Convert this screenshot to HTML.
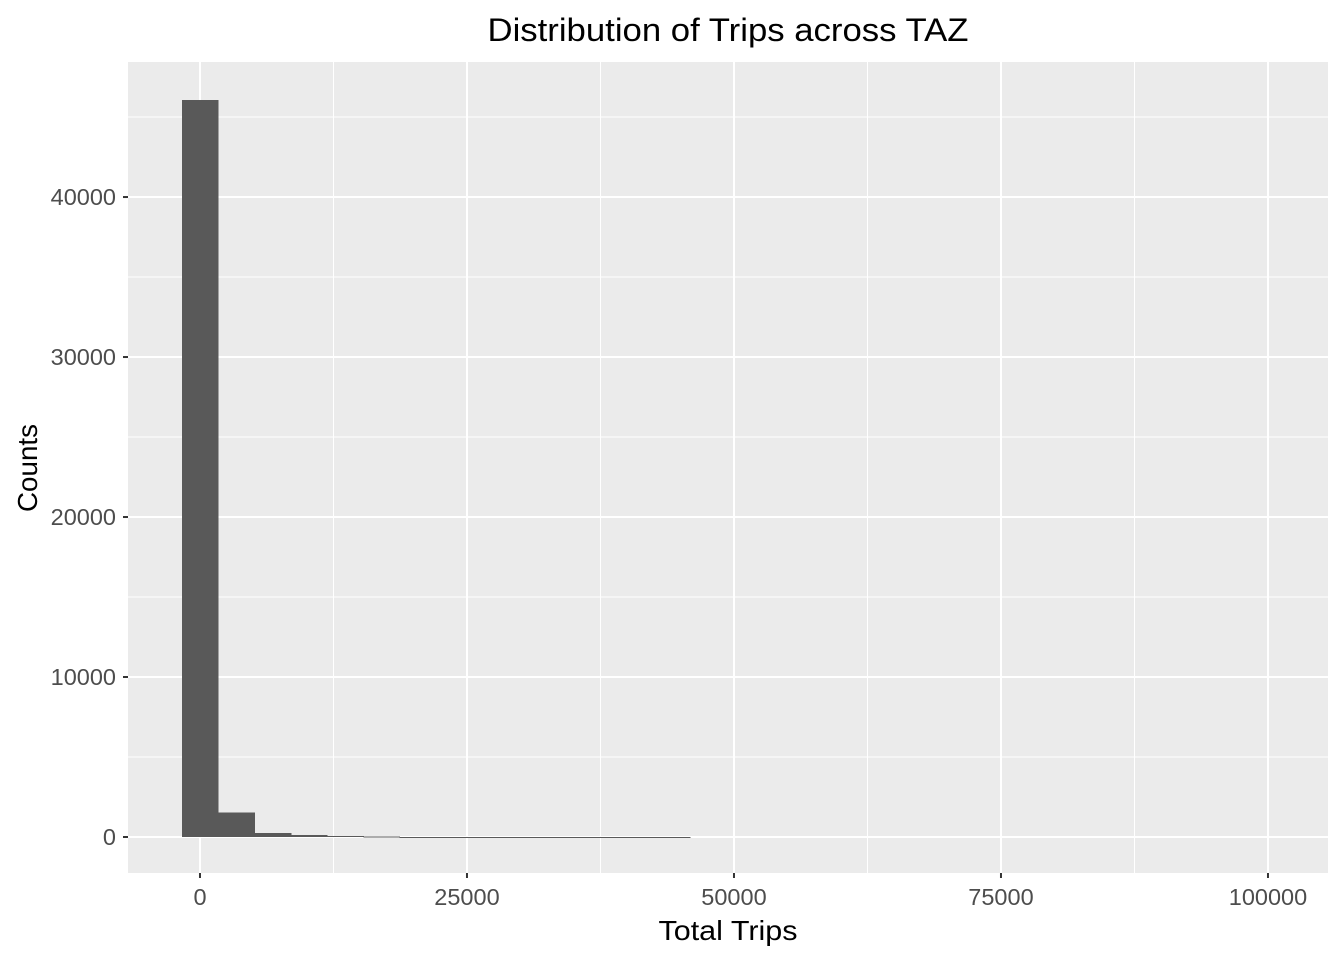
<!DOCTYPE html>
<html><head><meta charset="utf-8"><style>
body{margin:0;background:#fff;font-family:"Liberation Sans",Arial,sans-serif}
</style></head><body>
<svg id="chart" width="1344" height="960" xmlns="http://www.w3.org/2000/svg">
<rect width="1344" height="960" fill="#fff"/>
<text x="728" y="41" text-anchor="middle" font-size="32" textLength="481" lengthAdjust="spacingAndGlyphs" fill="#000">Distribution of Trips across TAZ</text>
<rect id="panel" x="128" y="62" width="1200" height="811" fill="#ebebeb"/>
<g id="grid"></g><g id="bars" shape-rendering="crispEdges"></g><g id="axes"></g>
<text x="728" y="940" text-anchor="middle" font-size="28" textLength="139" lengthAdjust="spacingAndGlyphs" fill="#000">Total Trips</text>
<text transform="translate(37,468) rotate(-90)" text-anchor="middle" font-size="28" textLength="88" lengthAdjust="spacingAndGlyphs" fill="#000">Counts</text>
</svg>
<script>
const binStarts=[-1700,1700,5100,8500,11900,15300,18700,22100,25500,28900,32300,35700,39100,42500];
const binWidth=3400;
const counts=[46050,1520,240,120,50,20,15,10,8,6,5,4,3,2];
const xTicks=[0,25000,50000,75000,100000];
const yTicks=[0,10000,20000,30000,40000];
const xMinor=[12500,37500,62500,87500];
const yMinor=[5000,15000,25000,35000,45000];
const NS="http://www.w3.org/2000/svg";
const X0=128,X1=1328,Y0=62,Y1=873;
const xmin=-6740,xmax=105620,ymin=-2250,ymax=48440;
const sx=v=>X0+(v-xmin)/(xmax-xmin)*(X1-X0);
const sy=v=>Y1-(v-ymin)/(ymax-ymin)*(Y1-Y0);
function mk(tag,attrs,parent){const e=document.createElementNS(NS,tag);for(const k in attrs)e.setAttribute(k,attrs[k]);parent.appendChild(e);return e;}
const grid=document.getElementById('grid'),bars=document.getElementById('bars'),axes=document.getElementById('axes');
yMinor.forEach(v=>{const l=mk('line',{x1:X0,x2:X1,y1:sy(v),y2:sy(v),stroke:'#fff','stroke-width':1},grid);

});
xMinor.forEach(v=>{const l=mk('line',{x1:sx(v),x2:sx(v),y1:Y0,y2:Y1,stroke:'#fff','stroke-width':1},grid);

});
yTicks.forEach(v=>{const y=sy(v);
const l=mk('line',{x1:X0,x2:X1,y1:y,y2:y,stroke:'#fff','stroke-width':2},grid);


const t=mk('line',{x1:X0-5,x2:X0,y1:y,y2:y,stroke:'#333','stroke-width':2},axes);


const tx=mk('text',{x:X0-12,y:y+8,'text-anchor':'end','font-size':23.5,fill:'#4d4d4d'},axes);tx.textContent=v;

});
xTicks.forEach(v=>{const x=sx(v);
const l=mk('line',{x1:x,x2:x,y1:Y0,y2:Y1,stroke:'#fff','stroke-width':2},grid);


const t=mk('line',{x1:x,x2:x,y1:Y1,y2:Y1+5,stroke:'#333','stroke-width':2},axes);


const tx=mk('text',{x:x,y:Y1+32,'text-anchor':'middle','font-size':23.5,fill:'#4d4d4d'},axes);tx.textContent=v;

});
counts.forEach((c,i)=>{const x=sx(binStarts[i]),w=sx(binStarts[i]+binWidth)-x+0.5,y=sy(c),h=sy(0)-y;
const r=mk('rect',{x:x,y:y,width:w,height:Math.max(h,1),fill:'#595959'},bars);

});
</script>
</body></html>
